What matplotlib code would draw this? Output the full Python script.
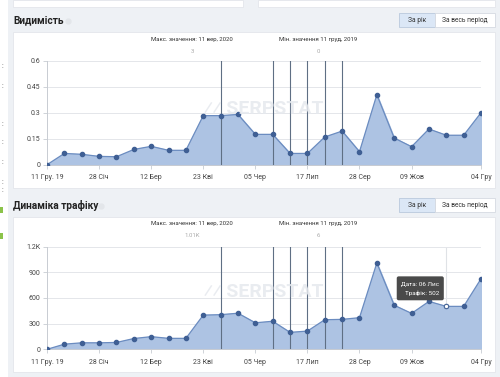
import numpy as np
import matplotlib.pyplot as plt
from matplotlib.patches import Rectangle

plt.rcParams['font.family'] = ['Roboto', 'DejaVu Sans']

# data: 26 points, every ~2 weeks from 11 Dec 2019 to 04 Dec 2020
visibility = [0.0, 0.065, 0.06, 0.048, 0.046, 0.088, 0.106, 0.083, 0.083, 0.283, 0.283, 0.29,
              0.175, 0.175, 0.065, 0.065, 0.16, 0.194, 0.075, 0.404, 0.154, 0.104, 0.206, 0.17,
              0.17, 0.30]
traffic = [0, 60, 76, 76, 80, 126, 148, 128, 128, 400, 405, 422,
           310, 328, 198, 213, 346, 350, 370, 1010, 515, 420, 560, 502,
           502, 825]
tick_idx = [0, 3, 6, 9, 12, 15, 18, 21, 25]
tick_labels = ["11 Гру. 19", "28 Січ", "12 Бер", "23 Кві", "05 Чер", "17 Лип", "28 Сер", "09 Жов", "04 Гру"]
event_idx = [10, 13, 14, 15, 16, 17]
vis_ticks = [0, 0.15, 0.3, 0.45, 0.6]
vis_tick_labels = ["0", "0.15", "0.3", "0.45", "0.6"]
traf_ticks = [0, 300, 600, 900, 1200]
traf_tick_labels = ["0", "300", "600", "900", "1.2K"]

W, H = 500, 377
fig = plt.figure(figsize=(W / 100, H / 100), dpi=100)
fig.patch.set_facecolor("#eef1f5")

# background layer in pixel coords
bg = fig.add_axes([0, 0, 1, 1])
bg.set_xlim(0, W)
bg.set_ylim(H, 0)
bg.axis("off")

# left sidebar strip and previous card edges
bg.add_patch(Rectangle((0, 0), 8, H, facecolor="white", edgecolor="none"))
bg.add_patch(Rectangle((13, 0), 230, 7, facecolor="white", edgecolor="#e3e6eb", lw=0.6))
bg.add_patch(Rectangle((258, 0), 237, 7, facecolor="white", edgecolor="#e3e6eb", lw=0.6))
for yy in [66, 86, 124, 143, 163, 182, 191]:
    bg.text(2, yy, ":", fontsize=5, color="#555", va="center")
for yy in [210, 236]:
    bg.add_patch(Rectangle((0, yy - 3), 2.5, 6, facecolor="#8bc34a", edgecolor="none"))


def card(y0, y1, title, ty, icon_x):
    bg.add_patch(Rectangle((13, y0), 482, y1 - y0, facecolor="white", edgecolor="#e3e6eb", lw=0.6))
    bg.text(13, ty, title, fontsize=7.3, fontweight="bold", color="#222", va="center")
    bg.plot([icon_x], [ty], "o", ms=3.5, color="#e3e6ea")
    bg.add_patch(Rectangle((399, ty - 7.5), 36, 14, facecolor="#dbe7f6", edgecolor="#b9c9dd", lw=0.6))
    bg.add_patch(Rectangle((435, ty - 7.5), 60, 14, facecolor="white", edgecolor="#d5dae1", lw=0.6))
    bg.text(417, ty, "За рік", fontsize=4.8, color="#333", ha="center", va="center")
    bg.text(465, ty, "За весь період", fontsize=4.8, color="#333", ha="center", va="center")


card(32, 188, "Видимість", 20.5, 68)
card(217, 372, "Динаміка трафіку", 205.5, 101)


def area_chart(rect, values, ticks, ticklabels, ymax, maxtxt, mintxt, wm_y, hy):
    ax = fig.add_axes(rect)
    ax.set_facecolor("none")
    x = np.arange(len(values))
    ax.fill_between(x, values, 0, color="#adc3e3", zorder=2)
    ax.plot(x, values, color="#6b8cc0", lw=0.9, zorder=3)
    ax.plot(x, values, "o", ms=3, color="#3f5f94", zorder=4)
    for i in event_idx:
        ax.axvline(i, color="#5f6f84", lw=0.8, zorder=3)
    ax.set_xlim(0, len(values) - 1)
    ax.set_ylim(0, ymax)
    ax.set_yticks(ticks)
    ax.set_yticklabels(ticklabels)
    ax.set_xticks(tick_idx)
    ax.set_xticklabels(tick_labels)
    ax.grid(axis="y", color="#e4e6ea", lw=0.7, zorder=0)
    for s in ["top", "right"]:
        ax.spines[s].set_visible(False)
    ax.spines["left"].set_color("#c8ccd2")
    ax.spines["bottom"].set_color("#c8ccd2")
    ax.spines["left"].set_linewidth(0.7)
    ax.spines["bottom"].set_linewidth(0.7)
    ax.tick_params(axis="both", labelsize=5, colors="#c8ccd2", labelcolor="#444", length=3, width=0.6, pad=2)
    ax.tick_params(axis="x", pad=4)
    ax.text(0.334, hy[0], "Макс. значення: 11 вер, 2020", transform=ax.transAxes,
            fontsize=4.3, color="#333", ha="center", va="center")
    ax.text(0.334, hy[1], maxtxt, transform=ax.transAxes, fontsize=4.3, color="#aaa", ha="center", va="center")
    ax.text(0.624, hy[0], "Мін. значення 11 груд, 2019", transform=ax.transAxes,
            fontsize=4.3, color="#333", ha="center", va="center")
    ax.text(0.624, hy[1], mintxt, transform=ax.transAxes, fontsize=4.3, color="#aaa", ha="center", va="center")
    ax.text(0.5, wm_y, "⁄⁄ SERPSTAT", transform=ax.transAxes, fontsize=14, fontweight="bold",
            color="#e6e9ee", alpha=0.85, ha="center", va="center", zorder=5)
    return ax


area_chart([47 / W, (H - 164.7) / H, 434 / W, 104 / H], visibility, vis_ticks, vis_tick_labels,
           0.6, "3", "0", 0.535, (1.20, 1.085))
ax2 = area_chart([47 / W, (H - 349.3) / H, 434 / W, 102.6 / H], traffic, traf_ticks, traf_tick_labels,
                 1200, "1.01K", "6", 0.56, (1.224, 1.107))

# hover state on the traffic chart
hv = 23
ax2.axvline(hv, color="#dfe2e6", lw=0.8, zorder=1)
ax2.plot([hv], [traffic[hv]], "o", ms=3, mfc="white", mec="#3f5f94", mew=0.6, zorder=6)
ax2.annotate("Дата: 06 Лис\nТрафік: " + str(traffic[hv]), xy=(hv, traffic[hv]), xytext=(-5, 13),
             textcoords="offset points", ha="right", va="center", fontsize=4.6, color="white",
             linespacing=2.0, zorder=7,
             bbox=dict(boxstyle="round,pad=0.7,rounding_size=0.3", fc="#4a4a4a", ec="none"))

fig.savefig("out.png", dpi=100, facecolor=fig.get_facecolor())
